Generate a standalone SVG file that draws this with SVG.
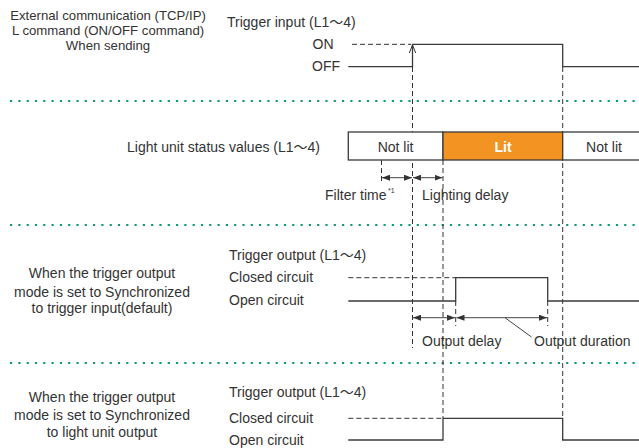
<svg xmlns="http://www.w3.org/2000/svg" width="639" height="448" viewBox="0 0 639 448">
<defs>
<style>
text{font-family:"Liberation Sans",Arial,"Noto Sans CJK JP",sans-serif;font-size:14px;fill:#333}
.h{font-size:13.2px}
.c{text-anchor:middle}
.sig{fill:none;stroke:#3a3a3a;stroke-width:1.3}
.dash{fill:none;stroke:#333;stroke-width:1;stroke-dasharray:5 3}
.dot{fill:none;stroke:#12997a;stroke-width:2.2;stroke-dasharray:2.2 6.1}
.dim{fill:none;stroke:#444;stroke-width:1}
.lit{fill:#f39321;stroke:#3a3a3a;stroke-width:1.3}
.box{fill:#fff;stroke:#3a3a3a;stroke-width:1.3}
</style>
<marker id="ah" viewBox="0 0 8 6" refX="8" refY="3" markerWidth="8" markerHeight="6" orient="auto-start-reverse" markerUnits="userSpaceOnUse">
<path d="M0,0 L8,3 L0,6 Z" fill="#333"/>
</marker>
</defs>

<g id="separators">
<line class="dot" x1="10" y1="101" x2="639" y2="101"/>
<line class="dot" x1="10" y1="225" x2="639" y2="225"/>
<line class="dot" x1="10" y1="363" x2="639" y2="363"/>
</g>

<g id="connectors">
<line class="dash" x1="412.5" y1="67" x2="412.5" y2="348"/>
<line class="dash" x1="443" y1="160" x2="443" y2="418"/>
<line class="dash" x1="562.7" y1="67" x2="562.7" y2="418"/>
<line class="dash" x1="381.5" y1="160" x2="381.5" y2="183"/>
<line class="dash" x1="455.7" y1="301" x2="455.7" y2="326"/>
<line class="dash" x1="547.7" y1="301" x2="547.7" y2="326"/>
<line class="dim" x1="382" y1="177.7" x2="412" y2="177.7" marker-start="url(#ah)" marker-end="url(#ah)"/>
<line class="dim" x1="413" y1="177.7" x2="442.5" y2="177.7" marker-start="url(#ah)" marker-end="url(#ah)"/>
<line class="dim" x1="413" y1="317.7" x2="455" y2="317.7" marker-start="url(#ah)" marker-end="url(#ah)"/>
<line class="dim" x1="456.5" y1="317.7" x2="547" y2="317.7" marker-start="url(#ah)" marker-end="url(#ah)"/>
<line class="dim" x1="505" y1="317.7" x2="531.5" y2="337"/>
</g>

<g id="header">
<text class="c h" x="108" y="19.5">External communication (TCP/IP)</text>
<text class="c h" x="108" y="34.5">L command (ON/OFF command)</text>
<text class="c h" x="108" y="49.5">When sending</text>
</g>

<g id="trigger-input">
<text x="227" y="27">Trigger input (L1～4)</text>
<text x="312.5" y="49">ON</text>
<text x="312" y="71">OFF</text>
<line class="dash" x1="352" y1="44.3" x2="411" y2="44.3"/>
<path class="sig" d="M348.3,66.7 H412.5 V44.3 H562.7 V66.7 H639"/>
<path d="M409.3,53 L412.5,45 L415.7,53" fill="none" stroke="#333" stroke-width="1"/>
</g>

<g id="status">
<text x="127" y="151.5">Light unit status values (L1～4)</text>
<rect class="box" x="348.3" y="132" width="94.7" height="28"/>
<rect class="lit" x="443" y="132" width="119.7" height="28"/>
<rect class="box" x="562.7" y="132" width="80" height="28"/>
<text class="c" x="395.6" y="151.5">Not lit</text>
<text class="c" x="503" y="151.5" style="fill:#fff;font-weight:bold">Lit</text>
<text class="c" x="604" y="151.5">Not lit</text>
<text x="325" y="200">Filter time</text>
<text x="388" y="193" style="font-size:7px">*1</text>
<text x="422" y="200">Lighting delay</text>
</g>

<g id="sync-input">
<text class="c" x="102" y="278">When the trigger output</text>
<text class="c" x="102" y="296.5">mode is set to Synchronized</text>
<text class="c" x="102" y="313">to trigger input(default)</text>
<text x="229" y="260">Trigger output (L1～4)</text>
<text x="229" y="282">Closed circuit</text>
<text x="229" y="305">Open circuit</text>
<line class="dash" x1="348.3" y1="277.7" x2="455" y2="277.7"/>
<path class="sig" d="M348.3,301 H455.7 V277.7 H547.7 V301 H639"/>
<text x="422" y="346">Output delay</text>
<text x="534" y="346">Output duration</text>
</g>

<g id="sync-light">
<text class="c" x="102" y="401.5">When the trigger output</text>
<text class="c" x="102" y="420">mode is set to Synchronized</text>
<text class="c" x="102" y="436.5">to light unit output</text>
<text x="229" y="396.5">Trigger output (L1～4)</text>
<text x="229" y="423">Closed circuit</text>
<text x="229" y="445">Open circuit</text>
<line class="dash" x1="348.3" y1="418.3" x2="442" y2="418.3"/>
<path class="sig" d="M348.3,440 H443 V418.3 H562.7 V440 H639"/>
</g>
</svg>
